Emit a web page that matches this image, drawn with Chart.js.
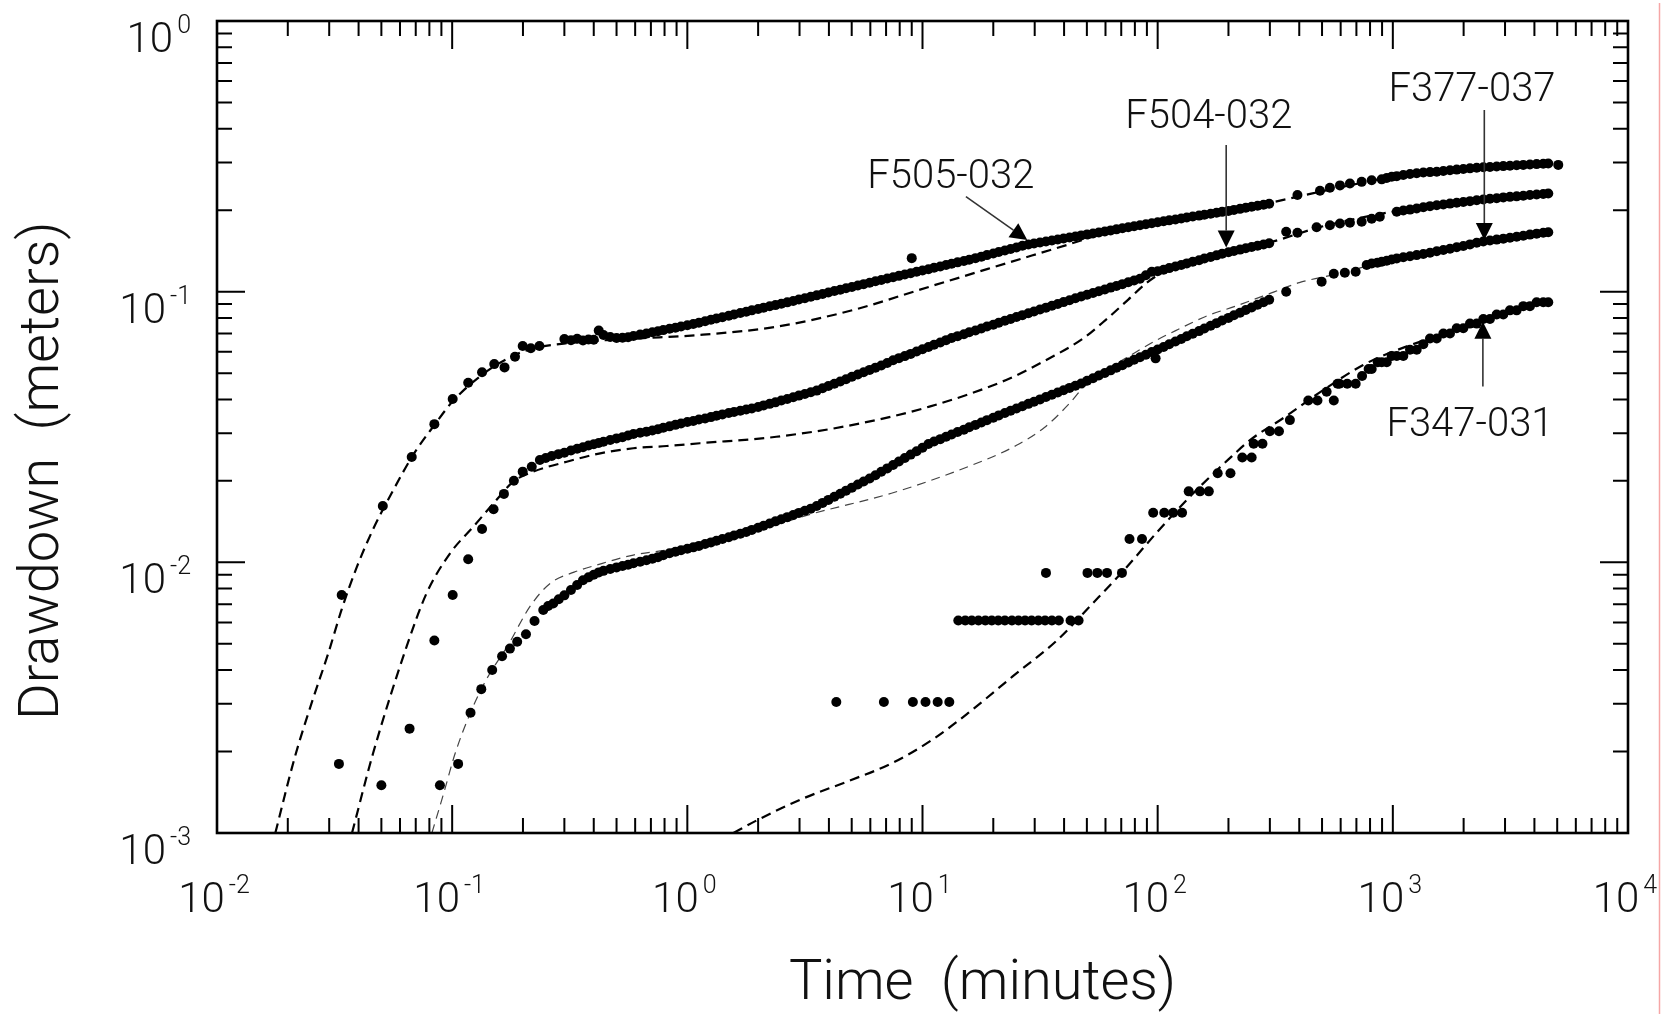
<!DOCTYPE html>
<html>
<head>
<meta charset="utf-8">
<script src="https://cdn.jsdelivr.net/npm/chart.js@4.4.1/dist/chart.umd.min.js"></script>
<style>
html,body{margin:0;padding:0;background:#fff;}
#wrap{width:1673px;height:1014px;position:relative;}
</style>
</head>
<body>
<div id="wrap"><canvas id="c" width="1673" height="1014"></canvas></div>
<script>
// ---------------- DATA ----------------
const xTickExponents = ['-2','-1','0','1','2','3','4'];
const yTickExponents = ['-3','-2','-1','0'];
const xAxisTitle = 'Time  (minutes)';
const yAxisTitle = 'Drawdown  (meters)';

// shared logger times for the dense part of the records (minutes)
const loggerTime = [0.30,0.32,0.34,0.36,0.38,0.40,0.42,0.44,0.47,0.50,0.53,0.56,0.59,0.63,0.67,0.71,0.75,0.79,0.84,0.89,0.94,
1.0,1.06,1.12,1.19,1.26,1.33,1.41,1.5,1.58,1.68,1.78,1.88,2.0,2.11,2.24,2.37,2.51,2.66,2.82,2.98,3.16,3.35,3.55,3.76,3.98,4.22,4.47,4.73,5.01,5.31,5.62,5.96,6.31,6.68,7.08,7.5,7.94,8.41,8.91,9.44,
10,10.6,11.2,11.9,12.6,13.3,14.1,15.0,15.8,16.8,17.8,18.8,20.0,21.1,22.4,23.7,25.1,26.6,28.2,29.8,31.6,33.5,35.5,37.6,39.8,42.2,44.7,47.3,50.1,53.1,56.2,59.6,63.1,66.8,70.8,75.0,79.4,84.1,89.1,94.4,
100,106,112,119,126,133,141,150,158,168,178,188,200,211,224,237,251,266,282,298];

// F505-032
const f505Dense = [0.0668,0.0662,0.0670,0.0660,0.0666,0.0664,0.0718,0.0692,0.0680,0.0674,0.0676,0.0679,0.0686,0.0694,0.0700,0.0708,0.0714,0.0721,0.0729,0.0736,0.0743,
0.0752,0.0760,0.0768,0.0778,0.0787,0.0796,0.0805,0.0815,0.0824,0.0834,0.0843,0.0853,0.0863,0.0873,0.0883,0.0892,0.0902,0.0913,0.0924,0.0935,0.0946,0.0957,0.0969,0.0981,0.0993,0.1005,0.1017,0.1029,0.1041,0.1054,0.1066,0.1079,0.1092,0.1105,0.1118,0.1131,0.1144,0.1157,0.1170,0.1184,
0.1197,0.1211,0.1225,0.1239,0.1254,0.1268,0.1283,0.1298,0.1312,0.1330,0.1347,0.1365,0.1383,0.1401,0.1420,0.1438,0.1457,0.1477,0.1494,0.1507,0.1520,0.1533,0.1546,0.1559,0.1573,0.1586,0.1600,0.1614,0.1628,0.1640,0.1655,0.1669,0.1684,0.1699,0.1714,0.1729,0.1744,0.1759,0.1775,0.1790,
0.1806,0.1820,0.1834,0.1849,0.1864,0.1879,0.1894,0.1910,0.1925,0.1941,0.1956,0.1972,0.1988,0.2005,0.2023,0.2041,0.2059,0.2077,0.2096,0.2114];
const f505EarlyTime = [0.0339,0.0507,0.0673,0.0840,0.1005,0.117,0.134,0.151,0.167,0.185,0.1995,0.216,0.235,9.0];
const f505EarlyDrawdown = [0.00757,0.01614,0.0245,0.0324,0.0401,0.0461,0.0504,0.0540,0.0525,0.0575,0.0630,0.0618,0.0630,0.133];
const f505LateTime = [393,490,540,596,657,737,813,897,942,989,1039,1108,1183,1263,1348,1439,1537,1640,1750,1869,1994,2128,2273,2425,2588,2764,2949,3148,3362,3587,3828,4088,4362,4581,5052];
const f505LateDrawdown = [0.2275,0.2361,0.2420,0.2470,0.2510,0.2545,0.2580,0.2600,0.2630,0.2659,0.2672,0.2700,0.2721,0.2740,0.2755,0.2765,0.2775,0.2790,0.2810,0.2825,0.2840,0.2855,0.2870,0.2880,0.2890,0.2900,0.2910,0.2920,0.2930,0.2940,0.2950,0.2960,0.2970,0.2975,0.2940];

// F504-032
const f504Dense = [0.0254,0.0259,0.0263,0.0266,0.0270,0.0273,0.0276,0.0279,0.0283,0.0287,0.0290,0.0294,0.0298,0.0301,0.0304,0.0307,0.0310,0.0314,0.0318,0.0322,0.0326,
0.0330,0.0333,0.0337,0.0340,0.0344,0.0348,0.0352,0.0356,0.0359,0.0363,0.0367,0.0370,0.0375,0.0380,0.0385,0.0390,0.0396,0.0401,0.0407,0.0413,0.0419,0.0425,0.0431,0.0440,0.0448,0.0457,0.0466,0.0475,0.0485,0.0494,0.0504,0.0514,0.0524,0.0534,0.0545,0.0558,0.0568,0.0578,0.0589,0.0601,
0.0613,0.0625,0.0637,0.0649,0.0662,0.0674,0.0685,0.0696,0.0708,0.0719,0.0731,0.0743,0.0755,0.0768,0.0781,0.0793,0.0806,0.0819,0.0832,0.0845,0.0859,0.0873,0.0887,0.0901,0.0915,0.0930,0.0945,0.0960,0.0974,0.0989,0.1004,0.1019,0.1035,0.1050,0.1066,0.1083,0.1099,0.1116,0.1150,0.1185,
0.1190,0.1205,0.1222,0.1238,0.1255,0.1272,0.1290,0.1307,0.1325,0.1343,0.1362,0.1380,0.1398,0.1414,0.1430,0.1446,0.1462,0.1478,0.1494,0.1510];
const f504EarlyTime = [0.033,0.050,0.0659,0.084,0.1005,0.117,0.134,0.150,0.166,0.183,0.1995,0.218,0.236,0.25,0.265,0.283];
const f504EarlyDrawdown = [0.0018,0.0015,0.00243,0.00514,0.00757,0.01026,0.01328,0.0157,0.0179,0.02003,0.02163,0.02256,0.0239,0.0243,0.0247,0.0251];
const f504LateTime = [352,393,474,540,596,657,737,813,880,1039,1108,1183,1263,1348,1439,1537,1640,1750,1869,1994,2128,2273,2425,2588,2764,2949,3148,3362,3587,3828,4088,4362,4581];
const f504LateDrawdown = [0.1666,0.1650,0.1729,0.1760,0.1785,0.1798,0.1814,0.1860,0.1893,0.1975,0.1995,0.2010,0.2030,0.2050,0.2070,0.2085,0.2100,0.2115,0.2130,0.2145,0.2160,0.2175,0.2190,0.2205,0.2215,0.2230,0.2240,0.2250,0.2262,0.2275,0.2285,0.2295,0.2305];

// F377-037
const f377Dense = [0.00755,0.00790,0.00825,0.00858,0.00880,0.00900,0.00918,0.00930,0.00945,0.00958,0.00970,0.00980,0.00992,0.01005,0.01018,0.01032,0.01045,0.01062,0.01080,0.01094,0.01108,
0.01122,0.01136,0.01150,0.01168,0.01185,0.01202,0.01220,0.01238,0.01256,0.01275,0.01294,0.01318,0.01342,0.01366,0.01391,0.01417,0.01442,0.01469,0.01495,0.01523,0.01551,0.01579,0.01615,0.01658,0.01701,0.01746,0.01792,0.01840,0.01888,0.01938,0.01989,0.02042,0.02098,0.02160,0.02224,0.02290,0.02358,0.02428,0.02500,0.02574,
0.02650,0.02735,0.02795,0.02852,0.02910,0.02969,0.03030,0.03092,0.03155,0.03219,0.03285,0.03352,0.03420,0.03490,0.03561,0.0363,0.0370,0.0377,0.0385,0.0392,0.0400,0.0408,0.0416,0.0424,0.0432,0.0441,0.0449,0.0458,0.0469,0.0479,0.0490,0.0501,0.0512,0.0524,0.0535,0.0547,0.0560,0.0572,0.0585,0.0598,
0.0611,0.0625,0.0639,0.0654,0.0669,0.0684,0.0699,0.0715,0.0731,0.0748,0.0765,0.0782,0.0800,0.0818,0.0836,0.0855,0.0874,0.0894,0.0914,0.0934];
const f377EarlyTime = [0.0887,0.106,0.1197,0.133,0.148,0.163,0.176,0.189,0.206,0.224,0.244,0.256,0.269,0.284,98];
const f377EarlyDrawdown = [0.0015,0.0018,0.00278,0.0034,0.0040,0.0045,0.0048,0.00509,0.00542,0.00607,0.00667,0.0069,0.00705,0.0073,0.0567];
const f377LateTime = [352,498,561,625,695,774,813,860,897,942,989,1039,1108,1183,1263,1348,1439,1537,1640,1750,1869,1994,2128,2273,2425,2588,2764,2949,3148,3362,3587,3828,4088,4362,4581];
const f377LateDrawdown = [0.1000,0.1089,0.1165,0.1175,0.1185,0.1255,0.1270,0.1280,0.1290,0.1300,0.1315,0.1325,0.1340,0.1352,0.1365,0.1378,0.1392,0.1410,0.1425,0.1440,0.1460,0.1475,0.1495,0.1515,0.1532,0.1545,0.1557,0.1570,0.1582,0.1595,0.1610,0.1625,0.1638,0.1650,0.1658];

// F347-031 (readings quantized at 0.01 ft)
const f347Time = [4.30,6.85,9.10,10.3,11.6,13.0,
14.2,15.2,16.2,17.3,18.5,19.7,21.0,22.4,24.0,25.6,27.3,29.1,31.1,33.2,35.5,38.0,42.6,46.1,
33.5,50.3,55.4,60.9,70.5,75.9,85.8,95.7,106.7,116.4,127,135.5,151.3,165,180,204,229,251,256,279,
300,328,365,437,478,523,561,582,593,640,695,740,789,
813,863,897,942,989,1039,1108,1183,1263,1348,1439,1537,1640,1750,1869,1994,2128,2273,2425,2588,2764,2949,3148,3362,3587,3828,4088,4362,4581];
const f347Drawdown = [0.00305,0.00305,0.00305,0.00305,0.00305,0.00305,
0.0061,0.0061,0.0061,0.0061,0.0061,0.0061,0.0061,0.0061,0.0061,0.0061,0.0061,0.0061,0.0061,0.0061,0.0061,0.0061,0.0061,0.0061,
0.00914,0.00914,0.00914,0.00914,0.00914,0.0122,0.0122,0.01524,0.01524,0.01524,0.01524,0.01829,0.01829,0.01829,0.02134,0.02134,0.02438,0.02438,0.02743,0.02743,
0.03048,0.03048,0.03353,0.03962,0.03962,0.04267,0.03962,0.04572,0.04572,0.04572,0.04572,0.04877,0.05182,
0.0518,0.0549,0.0549,0.0549,0.0579,0.0579,0.0579,0.0610,0.0610,0.0640,0.0671,0.0671,0.0701,0.0701,0.0732,0.0732,0.0762,0.0762,0.0792,0.0792,0.0823,0.0823,0.0853,0.0853,0.0884,0.0884,0.0914,0.0914,0.0914];

// model fits (dashed curves)
const f505FitTime = [0.0177,0.0214,0.0255,0.0297,0.0339,0.0393,0.0462,0.0562,0.0684,0.0832,0.101,0.1356,0.176,0.214,0.307,0.589,1.13,2.39,5.06,10.7,22.7,48,58,70,100,150,200,300,400,600,1000,2000,4500];
const f505FitDrawdown = [0.00100,0.0019,0.0031,0.0046,0.0067,0.0096,0.0133,0.0185,0.0250,0.0318,0.0395,0.0497,0.0572,0.0612,0.0645,0.0670,0.0692,0.0742,0.0855,0.1043,0.1273,0.1552,0.1640,0.1714,0.1806,0.1910,0.1988,0.2130,0.2250,0.2430,0.2655,0.2845,0.2975];
const f504FitTime = [0.0375,0.0461,0.064,0.0778,0.098,0.123,0.150,0.182,0.221,0.307,0.426,0.589,0.817,1.13,2.39,5.06,10.7,22.7,35,48,60,75,90,110,150,200,300,500,1000,2000,4500];
const f504FitDrawdown = [0.0010,0.00197,0.00488,0.00768,0.0108,0.01354,0.01652,0.01986,0.02163,0.02353,0.02528,0.02639,0.0269,0.02754,0.0291,0.0322,0.0376,0.0472,0.0570,0.0670,0.0785,0.0935,0.1080,0.1205,0.1307,0.1398,0.1520,0.1740,0.1975,0.2145,0.2300];
const f377FitTime = [0.082,0.092,0.103,0.12,0.14,0.173,0.214,0.261,0.33,0.411,0.589,0.817,1.13,1.99,3.48,7.38,15.6,25,33,42,48,60,80,100,122,160,215,313,400,600,1000,2000,4500];
const f377FitDrawdown = [0.0010,0.0014,0.00197,0.0028,0.0037,0.00495,0.00686,0.00836,0.0092,0.00977,0.01064,0.0111,0.01176,0.01316,0.0152,0.0180,0.02256,0.0270,0.0315,0.0385,0.0440,0.0510,0.0595,0.0665,0.0725,0.0810,0.0885,0.0998,0.1080,0.1170,0.1320,0.1480,0.1655];
const f347FitTime = [1.57,2.0,3.1,4.79,7.41,11.0,15.6,24.1,37.4,53,72,100,140,200,250,340,500,748,1000,2037,4476];
const f347FitDrawdown = [0.0010,0.00112,0.00134,0.00155,0.00181,0.00221,0.00277,0.00378,0.00516,0.00706,0.00937,0.0130,0.0178,0.0240,0.0285,0.0340,0.0430,0.0536,0.0600,0.0742,0.0931];

// annotations (well labels) in data coordinates [time, drawdown]
const wellLabels = ['F505-032','F504-032','F377-037','F347-031'];
const wellLabelAt = [[13.2,0.272],[165,0.453],[2171,0.572],[2128,0.0329]];
const wellArrowFrom = [[15.3,0.2243],[195.6,0.348],[2449,0.469],[2415,0.0446]];
const wellArrowTo = [[27.9,0.1552],[195.6,0.1456],[2449,0.1552],[2415,0.0775]];

// axis-title anchors in data coordinates
const xTitleAt = 18.0;     // time at title centre
const yTitleAt = 0.0218;   // drawdown at title centre

// ---------------- BUILD ----------------
function zip(t, s){ return t.map((v,i)=>({x:v, y:s[i]})); }
const FONT = 'Roboto, "Liberation Sans", sans-serif';

function pts(label, t, s){
  return {label, data: zip(t,s), showLine:false, pointRadius:5, pointHoverRadius:5,
    pointBackgroundColor:'#000', pointBorderColor:'#000', pointBorderWidth:0, order:1};
}
function fit(label, t, s, w, color, dash){
  return {label, data: zip(t,s), showLine:true, pointRadius:0, borderColor:color, borderWidth:w,
    borderDash:dash, cubicInterpolationMode:'monotone', fill:false, order:2};
}

const datasets = [
  fit('F505-032 fit', f505FitTime, f505FitDrawdown, 2.2, '#000', [10,6]),
  fit('F504-032 fit', f504FitTime, f504FitDrawdown, 2.2, '#000', [10,6]),
  fit('F377-037 fit', f377FitTime, f377FitDrawdown, 1.2, '#444', [9,6]),
  fit('F347-031 fit', f347FitTime, f347FitDrawdown, 2.2, '#000', [10,6]),
  pts('F505-032', f505EarlyTime.concat(loggerTime, f505LateTime), f505EarlyDrawdown.concat(f505Dense, f505LateDrawdown)),
  pts('F504-032', f504EarlyTime.concat(loggerTime, f504LateTime), f504EarlyDrawdown.concat(f504Dense, f504LateDrawdown)),
  pts('F377-037', f377EarlyTime.concat(loggerTime, f377LateTime), f377EarlyDrawdown.concat(f377Dense, f377LateDrawdown)),
  pts('F347-031', f347Time, f347Drawdown)
];

function drawArrow(ctx, x1, y1, x2, y2){
  const L = 17, W = 8.5;
  const ang = Math.atan2(y2-y1, x2-x1);
  const bx = x2 - L*Math.cos(ang), by = y2 - L*Math.sin(ang);
  ctx.strokeStyle = '#333'; ctx.lineWidth = 1.6;
  ctx.beginPath(); ctx.moveTo(x1,y1); ctx.lineTo(bx,by); ctx.stroke();
  ctx.fillStyle = '#000';
  ctx.beginPath();
  ctx.moveTo(x2,y2);
  ctx.lineTo(bx + W*Math.sin(ang), by - W*Math.cos(ang));
  ctx.lineTo(bx - W*Math.sin(ang), by + W*Math.cos(ang));
  ctx.closePath(); ctx.fill();
}

const decor = {
  id:'decor',
  afterDatasetsDraw(chart){
    const {ctx, chartArea:a, scales:{x, y}} = chart;
    ctx.save();
    // minor / major inward ticks
    ctx.strokeStyle = '#000'; ctx.lineWidth = 2;
    const MAJ = 28, MIN = 15;
    for (let d = -2; d <= 4; d++){
      for (let m = 1; m <= 9; m++){
        const v = m * Math.pow(10, d);
        if (v < 0.01 || v > 10000) continue;
        const px = x.getPixelForValue(v);
        const len = (m === 1) ? MAJ : MIN;
        ctx.beginPath();
        ctx.moveTo(px, a.bottom); ctx.lineTo(px, a.bottom - len);
        ctx.moveTo(px, a.top); ctx.lineTo(px, a.top + len);
        ctx.stroke();
      }
    }
    for (let d = -3; d <= 0; d++){
      for (let m = 1; m <= 9; m++){
        const v = m * Math.pow(10, d);
        if (v < 0.001 || v > 1) continue;
        const py = y.getPixelForValue(v);
        const len = (m === 1) ? MAJ : MIN;
        ctx.beginPath();
        ctx.moveTo(a.left, py); ctx.lineTo(a.left + len, py);
        ctx.moveTo(a.right, py); ctx.lineTo(a.right - len, py);
        ctx.stroke();
      }
    }
    // frame
    ctx.lineWidth = 2.6;
    ctx.strokeRect(a.left, a.top, a.right - a.left, a.bottom - a.top);

    // tick labels 10^n
    ctx.fillStyle = '#111';
    ctx.textBaseline = 'alphabetic';
    ctx.textAlign = 'left';
    const bigFont = '300 42px ' + FONT, supFont = '300 25px ' + FONT;
    ctx.font = bigFont; const bw = ctx.measureText('10').width;
    yTickExponents.forEach(e => {
      const py = y.getPixelForValue(Math.pow(10, +e));
      ctx.font = supFont; const ew = ctx.measureText(e).width;
      const right = a.left - 26;
      ctx.fillText(e, right - ew, py + 12);
      ctx.font = bigFont;
      ctx.fillText('10', right - ew - 4 - bw, py + 31);
    });
    xTickExponents.forEach(e => {
      const px = x.getPixelForValue(Math.pow(10, +e));
      ctx.font = supFont; const ew = ctx.measureText(e).width;
      const total = bw + 4 + ew;
      const start = px - 3 - total/2;
      ctx.font = bigFont;
      ctx.fillText('10', start, a.bottom + 79);
      ctx.font = supFont;
      ctx.fillText(e, start + bw + 4, a.bottom + 60);
    });

    // axis titles
    ctx.fillStyle = '#111';
    ctx.font = '300 56px ' + FONT;
    ctx.textAlign = 'center';
    ctx.fillText(xAxisTitle, x.getPixelForValue(xTitleAt), 999);
    ctx.save();
    ctx.translate(58, y.getPixelForValue(yTitleAt));
    ctx.rotate(-Math.PI/2);
    ctx.fillText(yAxisTitle, 0, 0);
    ctx.restore();

    // well annotations
    ctx.font = '300 40px ' + FONT;
    ctx.textAlign = 'center'; ctx.textBaseline = 'middle';
    wellLabels.forEach((lab, i) => {
      ctx.fillStyle = '#111';
      ctx.fillText(lab, x.getPixelForValue(wellLabelAt[i][0]), y.getPixelForValue(wellLabelAt[i][1]) + 4);
      drawArrow(ctx,
        x.getPixelForValue(wellArrowFrom[i][0]), y.getPixelForValue(wellArrowFrom[i][1]),
        x.getPixelForValue(wellArrowTo[i][0]), y.getPixelForValue(wellArrowTo[i][1]));
    });

    // thin pink page rule at the right edge
    ctx.strokeStyle = '#f6a6a6'; ctx.lineWidth = 1.5;
    ctx.beginPath(); ctx.moveTo(1659.5, 3); ctx.lineTo(1659.5, 1014); ctx.stroke();
    ctx.restore();
  }
};

new Chart(document.getElementById('c'), {
  type: 'scatter',
  data: { datasets },
  options: {
    responsive: false,
    devicePixelRatio: 1,
    animation: false,
    events: [],
    layout: { padding: { left: 217, right: 45, top: 21, bottom: 181 } },
    plugins: { legend: { display: false }, tooltip: { enabled: false } },
    scales: {
      x: { type: 'logarithmic', min: 0.01, max: 10000, display: false },
      y: { type: 'logarithmic', min: 0.001, max: 1, display: false }
    }
  },
  plugins: [decor]
});
</script>
</body>
</html>
